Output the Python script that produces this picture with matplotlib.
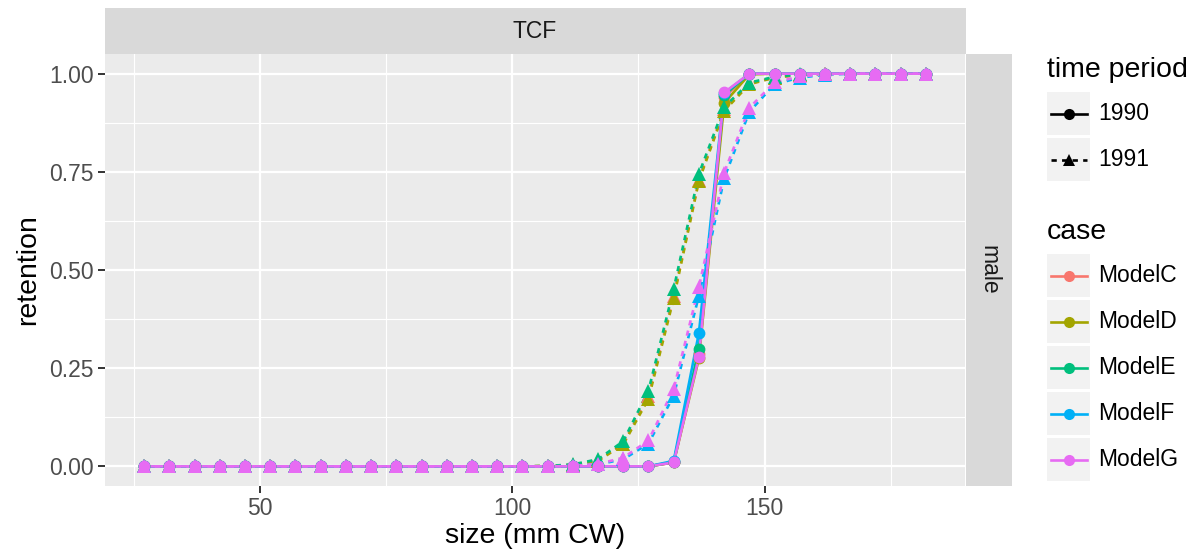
import matplotlib
matplotlib.use("Agg")
import matplotlib.pyplot as plt
from matplotlib.patches import Rectangle
from matplotlib.lines import Line2D

plt.rcParams['font.family'] = ['Liberation Sans', 'DejaVu Sans']

# size classes (mm CW)
size = [27, 32, 37, 42, 47, 52, 57, 62, 67, 72, 77, 82,
        87, 92, 97, 102, 107, 112, 117, 122, 127, 132, 137,
        142, 147, 152, 157, 162, 167, 172, 177, 182]

cases = ["ModelC", "ModelD", "ModelE", "ModelF", "ModelG"]
periods = ["1990", "1991"]
colors = ["#F8766D", "#A3A500", "#00BF7D", "#00B0F6", "#E76BF3"]

# retention, 1990
ret_1990_C = [0, 0, 0, 0, 0, 0, 0, 0, 0, 0, 0, 0, 0, 0, 0, 0, 0, 0, 0, 0, 0,
              0.010, 0.285, 0.940, 1.0, 1.0, 1.0, 1.0, 1.0, 1.0, 1.0, 1.0]
ret_1990_D = [0, 0, 0, 0, 0, 0, 0, 0, 0, 0, 0, 0, 0, 0, 0, 0, 0, 0, 0, 0, 0,
              0.010, 0.275, 0.925, 0.998, 1.0, 1.0, 1.0, 1.0, 1.0, 1.0, 1.0]
ret_1990_E = [0, 0, 0, 0, 0, 0, 0, 0, 0, 0, 0, 0, 0, 0, 0, 0, 0, 0, 0, 0, 0,
              0.011, 0.300, 0.945, 1.0, 1.0, 1.0, 1.0, 1.0, 1.0, 1.0, 1.0]
ret_1990_F = [0, 0, 0, 0, 0, 0, 0, 0, 0, 0, 0, 0, 0, 0, 0, 0, 0, 0, 0, 0, 0,
              0.014, 0.340, 0.950, 1.0, 1.0, 1.0, 1.0, 1.0, 1.0, 1.0, 1.0]
ret_1990_G = [0, 0, 0, 0, 0, 0, 0, 0, 0, 0, 0, 0, 0, 0, 0, 0, 0, 0, 0, 0, 0,
              0.010, 0.279, 0.952, 1.0, 1.0, 1.0, 1.0, 1.0, 1.0, 1.0, 1.0]

# retention, 1991
ret_1991_C = [0, 0, 0, 0, 0, 0, 0, 0, 0, 0, 0, 0, 0, 0, 0, 0, 0.001, 0.004, 0.015,
              0.058, 0.180, 0.435, 0.730, 0.910, 0.975, 0.990, 0.997, 1.0, 1.0, 1.0, 1.0, 1.0]
ret_1991_D = [0, 0, 0, 0, 0, 0, 0, 0, 0, 0, 0, 0, 0, 0, 0, 0, 0.001, 0.004, 0.014,
              0.056, 0.172, 0.428, 0.727, 0.905, 0.973, 0.990, 0.997, 1.0, 1.0, 1.0, 1.0, 1.0]
ret_1991_E = [0, 0, 0, 0, 0, 0, 0, 0, 0, 0, 0, 0, 0, 0, 0, 0, 0.001, 0.005, 0.018,
              0.064, 0.193, 0.452, 0.745, 0.915, 0.977, 0.992, 0.998, 1.0, 1.0, 1.0, 1.0, 1.0]
ret_1991_F = [0, 0, 0, 0, 0, 0, 0, 0, 0, 0, 0, 0, 0, 0, 0, 0, 0, 0.001, 0.005,
              0.018, 0.058, 0.180, 0.435, 0.733, 0.903, 0.973, 0.990, 0.997, 1.0, 1.0, 1.0, 1.0]
ret_1991_G = [0, 0, 0, 0, 0, 0, 0, 0, 0, 0, 0, 0, 0, 0, 0, 0, 0, 0.001, 0.006,
              0.022, 0.066, 0.197, 0.457, 0.748, 0.913, 0.978, 0.993, 0.998, 1.0, 1.0, 1.0, 1.0]

ret_1990 = [ret_1990_C, ret_1990_D, ret_1990_E, ret_1990_F, ret_1990_G]
ret_1991 = [ret_1991_C, ret_1991_D, ret_1991_E, ret_1991_F, ret_1991_G]

W, H = 1196, 557
fig = plt.figure(figsize=(W / 100, H / 100), dpi=100)

# panel in pixel coords
px0, px1, py0, py1 = 105, 965, 54, 486
ax = fig.add_axes([px0 / W, 1 - py1 / H, (px1 - px0) / W, (py1 - py0) / H])
ax.set_facecolor("#EBEBEB")
for s in ax.spines.values():
    s.set_visible(False)

# ggplot-like 5% expansion
xr = size[-1] - size[0]
ax.set_xlim(size[0] - 0.05 * xr, size[-1] + 0.05 * xr)
ax.set_ylim(-0.05, 1.05)
ax.set_xticks([50, 100, 150])
ax.set_yticks([0, 0.25, 0.5, 0.75, 1.0])
ax.set_yticklabels(["0.00", "0.25", "0.50", "0.75", "1.00"])
ax.set_xticks([25, 75, 125, 175], minor=True)
ax.set_yticks([0.125, 0.375, 0.625, 0.875], minor=True)
ax.grid(which="major", color="white", lw=1.6)
ax.grid(which="minor", color="white", lw=0.8)
ax.set_axisbelow(True)
ax.tick_params(which="major", length=5, width=1.4, color="#333333",
               labelsize=16.5, labelcolor="#4D4D4D", pad=3)
ax.tick_params(which="minor", length=0)
ax.set_xlabel("size (mm CW)", fontsize=20.5, labelpad=2)
ax.set_ylabel("retention", fontsize=20.5, labelpad=6)

lw = 1.9
for i in range(len(cases)):
    ax.plot(size, ret_1990[i], color=colors[i], lw=lw, zorder=2)
    ax.plot(size, ret_1991[i], color=colors[i], lw=lw, dashes=(2, 2), zorder=2)
for i in range(len(cases)):
    ax.plot(size, ret_1990[i], ls="none", marker="o", ms=8.5, mew=0,
            color=colors[i], zorder=3)
    ax.plot(size, ret_1991[i], ls="none", marker="^", ms=9.5, mew=0,
            color=colors[i], zorder=3)

# overlay in pixel coords for strips and legend
ov = fig.add_axes([0, 0, 1, 1], zorder=-1)
ov.set_xlim(0, W)
ov.set_ylim(H, 0)
ov.axis("off")
ov.add_patch(Rectangle((px0, 8), px1 - px0 + 1, py0 - 8, color="#D9D9D9", lw=0))
ov.text((px0 + px1) / 2, (8 + py0) / 2, "TCF", fontsize=16.5, color="#1A1A1A",
        ha="center", va="center")
ov.add_patch(Rectangle((966, py0), 46, py1 - py0, color="#D9D9D9", lw=0))
ov.text(989, (py0 + py1) / 2, "male", fontsize=16.5, color="#1A1A1A",
        ha="center", va="center", rotation=-90)

ov2 = fig.add_axes([0, 0, 1, 1], zorder=5)
ov2.set_xlim(0, W)
ov2.set_ylim(H, 0)
ov2.axis("off")
ov2.patch.set_alpha(0)

kx0, kw, kh = 1047, 43, 43
ov2.text(kx0, 70, "time period", fontsize=20.5, ha="left", va="center")
for j, p in enumerate(periods):
    ky = 92 + j * 46
    ov2.add_patch(Rectangle((kx0, ky), kw, kh, color="#F2F2F2", lw=0))
    cy = ky + kh / 2
    if j == 0:
        ov2.add_line(Line2D([kx0 + 4, kx0 + 40], [cy, cy], color="black", lw=lw))
        ov2.plot([kx0 + 21.5], [cy], marker="o", ms=8, mew=0, color="black")
    else:
        ov2.add_line(Line2D([kx0 + 4, kx0 + 40], [cy, cy], color="black", lw=lw,
                            dashes=(2, 2)))
        ov2.plot([kx0 + 21.5], [cy], marker="^", ms=9, mew=0, color="black")
    ov2.text(1098, cy, p, fontsize=16.5, ha="left", va="center")

ov2.text(kx0, 232, "case", fontsize=20.5, ha="left", va="center")
for j, c in enumerate(cases):
    ky = 254 + j * 46
    ov2.add_patch(Rectangle((kx0, ky), kw, kh, color="#F2F2F2", lw=0))
    cy = ky + kh / 2
    ov2.add_line(Line2D([kx0 + 4, kx0 + 40], [cy, cy], color=colors[j], lw=lw))
    ov2.plot([kx0 + 21.5], [cy], marker="o", ms=8, mew=0, color=colors[j])
    ov2.text(1098, cy, c, fontsize=16.5, ha="left", va="center")

fig.savefig("out.png", dpi=100)
